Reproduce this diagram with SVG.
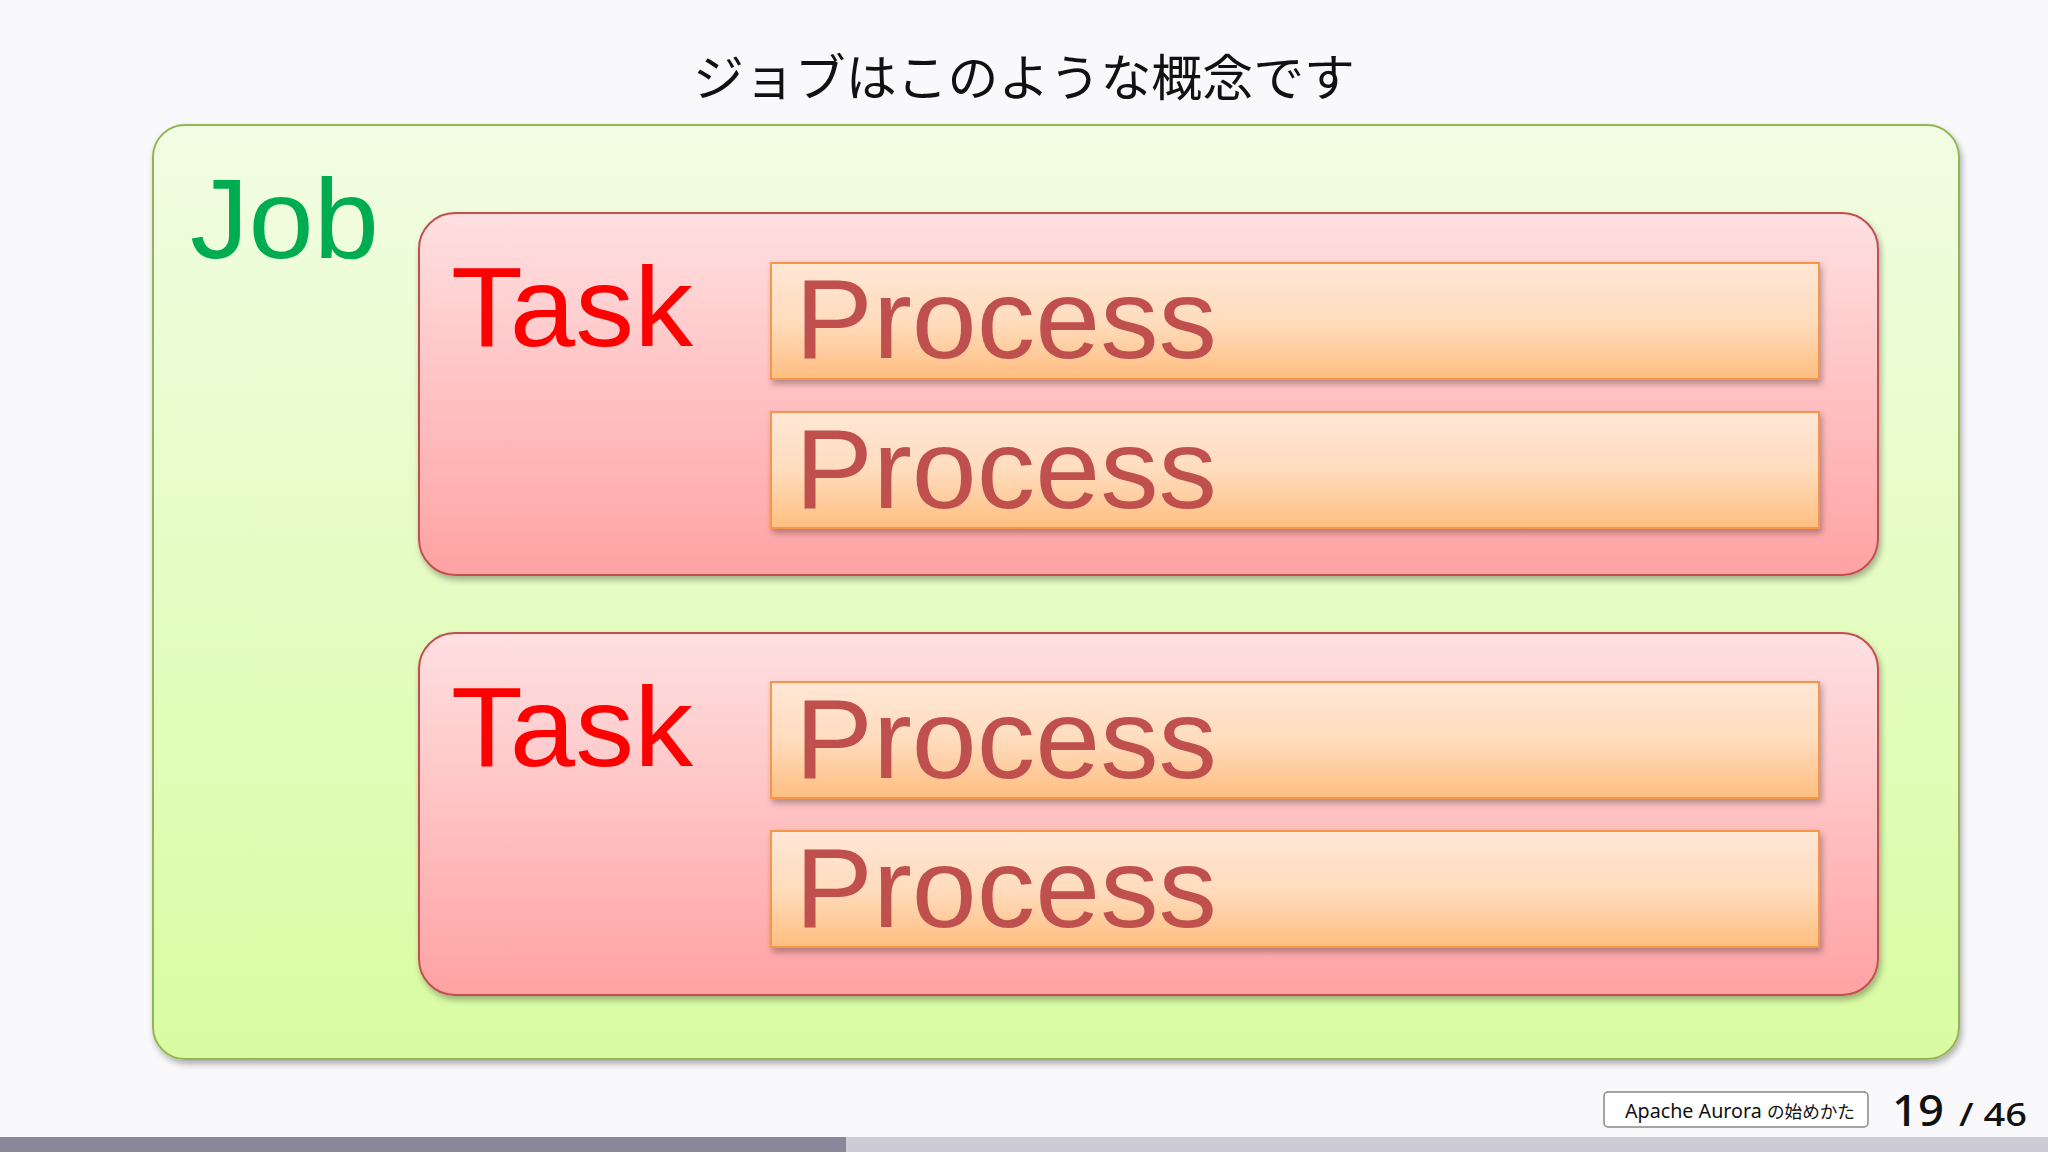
<svg xmlns="http://www.w3.org/2000/svg" width="2048" height="1152" viewBox="0 0 2048 1152">
<defs>
<linearGradient id="gJob" x1="0" y1="0" x2="0" y2="1"><stop offset="0" stop-color="#f1fde3"/><stop offset="1" stop-color="#d9fca2"/></linearGradient>
<linearGradient id="gTask" x1="0" y1="0" x2="0" y2="1"><stop offset="0" stop-color="#ffe0e1"/><stop offset="1" stop-color="#ffa2a3"/></linearGradient>
<linearGradient id="gProc" x1="0" y1="0" x2="0" y2="1"><stop offset="0" stop-color="#ffe7d6"/><stop offset="0.5" stop-color="#ffdcbd"/><stop offset="1" stop-color="#ffbe80"/></linearGradient>
<filter id="sh" x="-5%" y="-5%" width="110%" height="115%"><feDropShadow dx="2" dy="4" stdDeviation="3" flood-color="#000" flood-opacity="0.3"/></filter>
</defs>
<style>
.job{fill:url(#gJob);stroke:#93b553;stroke-width:2}
.task{fill:url(#gTask);stroke:#c0504d;stroke-width:2}
.proc{fill:url(#gProc);stroke:#f79646;stroke-width:2}
.lbl{font-family:"Liberation Sans",Arial,sans-serif}
.tl{font-size:113px;fill:#ff0000}
.pl{font-size:114px;fill:#c0504d}
</style>
<rect width="2048" height="1152" fill="#f9f9fb"/>
<text x="693" y="96" font-family="'Noto Sans CJK JP',sans-serif" font-size="50" fill="#111" textLength="662" lengthAdjust="spacingAndGlyphs">ジョブはこのような概念です</text>
<g id="job">
<rect class="job" x="153" y="125" width="1806" height="934" rx="32" filter="url(#sh)"/>
<text class="lbl" x="190" y="258" font-size="114" fill="#00ac50" textLength="189" lengthAdjust="spacingAndGlyphs">Job</text>
</g>
<g id="task1">
<rect class="task" x="419" y="213" width="1459" height="362" rx="36" filter="url(#sh)"/>
<text class="lbl tl" x="451" y="346" textLength="242" lengthAdjust="spacingAndGlyphs">Task</text>
</g>
<g id="process1">
<rect class="proc" x="771" y="263" width="1048" height="116" filter="url(#sh)"/>
<text class="lbl pl" x="795" y="358" textLength="422" lengthAdjust="spacingAndGlyphs">Process</text>
</g>
<g id="process2">
<rect class="proc" x="771" y="412" width="1048" height="116" filter="url(#sh)"/>
<text class="lbl pl" x="795" y="508" textLength="422" lengthAdjust="spacingAndGlyphs">Process</text>
</g>
<g id="task2">
<rect class="task" x="419" y="633" width="1459" height="362" rx="36" filter="url(#sh)"/>
<text class="lbl tl" x="451" y="766" textLength="242" lengthAdjust="spacingAndGlyphs">Task</text>
</g>
<g id="process3">
<rect class="proc" x="771" y="682" width="1048" height="116" filter="url(#sh)"/>
<text class="lbl pl" x="795" y="778" textLength="422" lengthAdjust="spacingAndGlyphs">Process</text>
</g>
<g id="process4">
<rect class="proc" x="771" y="831" width="1048" height="116" filter="url(#sh)"/>
<text class="lbl pl" x="795" y="927" textLength="422" lengthAdjust="spacingAndGlyphs">Process</text>
</g>
<g id="connectors"></g>
<g id="footer">
<rect x="1604" y="1092" width="264" height="35" rx="4" fill="#fff" stroke="#888" stroke-width="1.5"/>
<text x="1625" y="1118" font-family="'Noto Sans','Noto Sans CJK JP',sans-serif" font-size="19" fill="#111" textLength="230" lengthAdjust="spacingAndGlyphs">Apache Aurora <tspan font-family="'Noto Sans CJK JP',sans-serif" font-size="17">の始めかた</tspan></text>
<text x="1892" y="1126" font-family="'Noto Sans',sans-serif" font-size="44" font-weight="500" fill="#111" textLength="52" lengthAdjust="spacingAndGlyphs">19</text>
<text x="1959" y="1126" font-family="'Noto Sans',sans-serif" font-size="33" font-weight="500" fill="#111" textLength="68" lengthAdjust="spacingAndGlyphs">/ 46</text>
</g>
<rect x="0" y="1137" width="2048" height="15" fill="#cdccd4"/>
<rect x="0" y="1137" width="846" height="15" fill="#8a8898"/>
</svg>
